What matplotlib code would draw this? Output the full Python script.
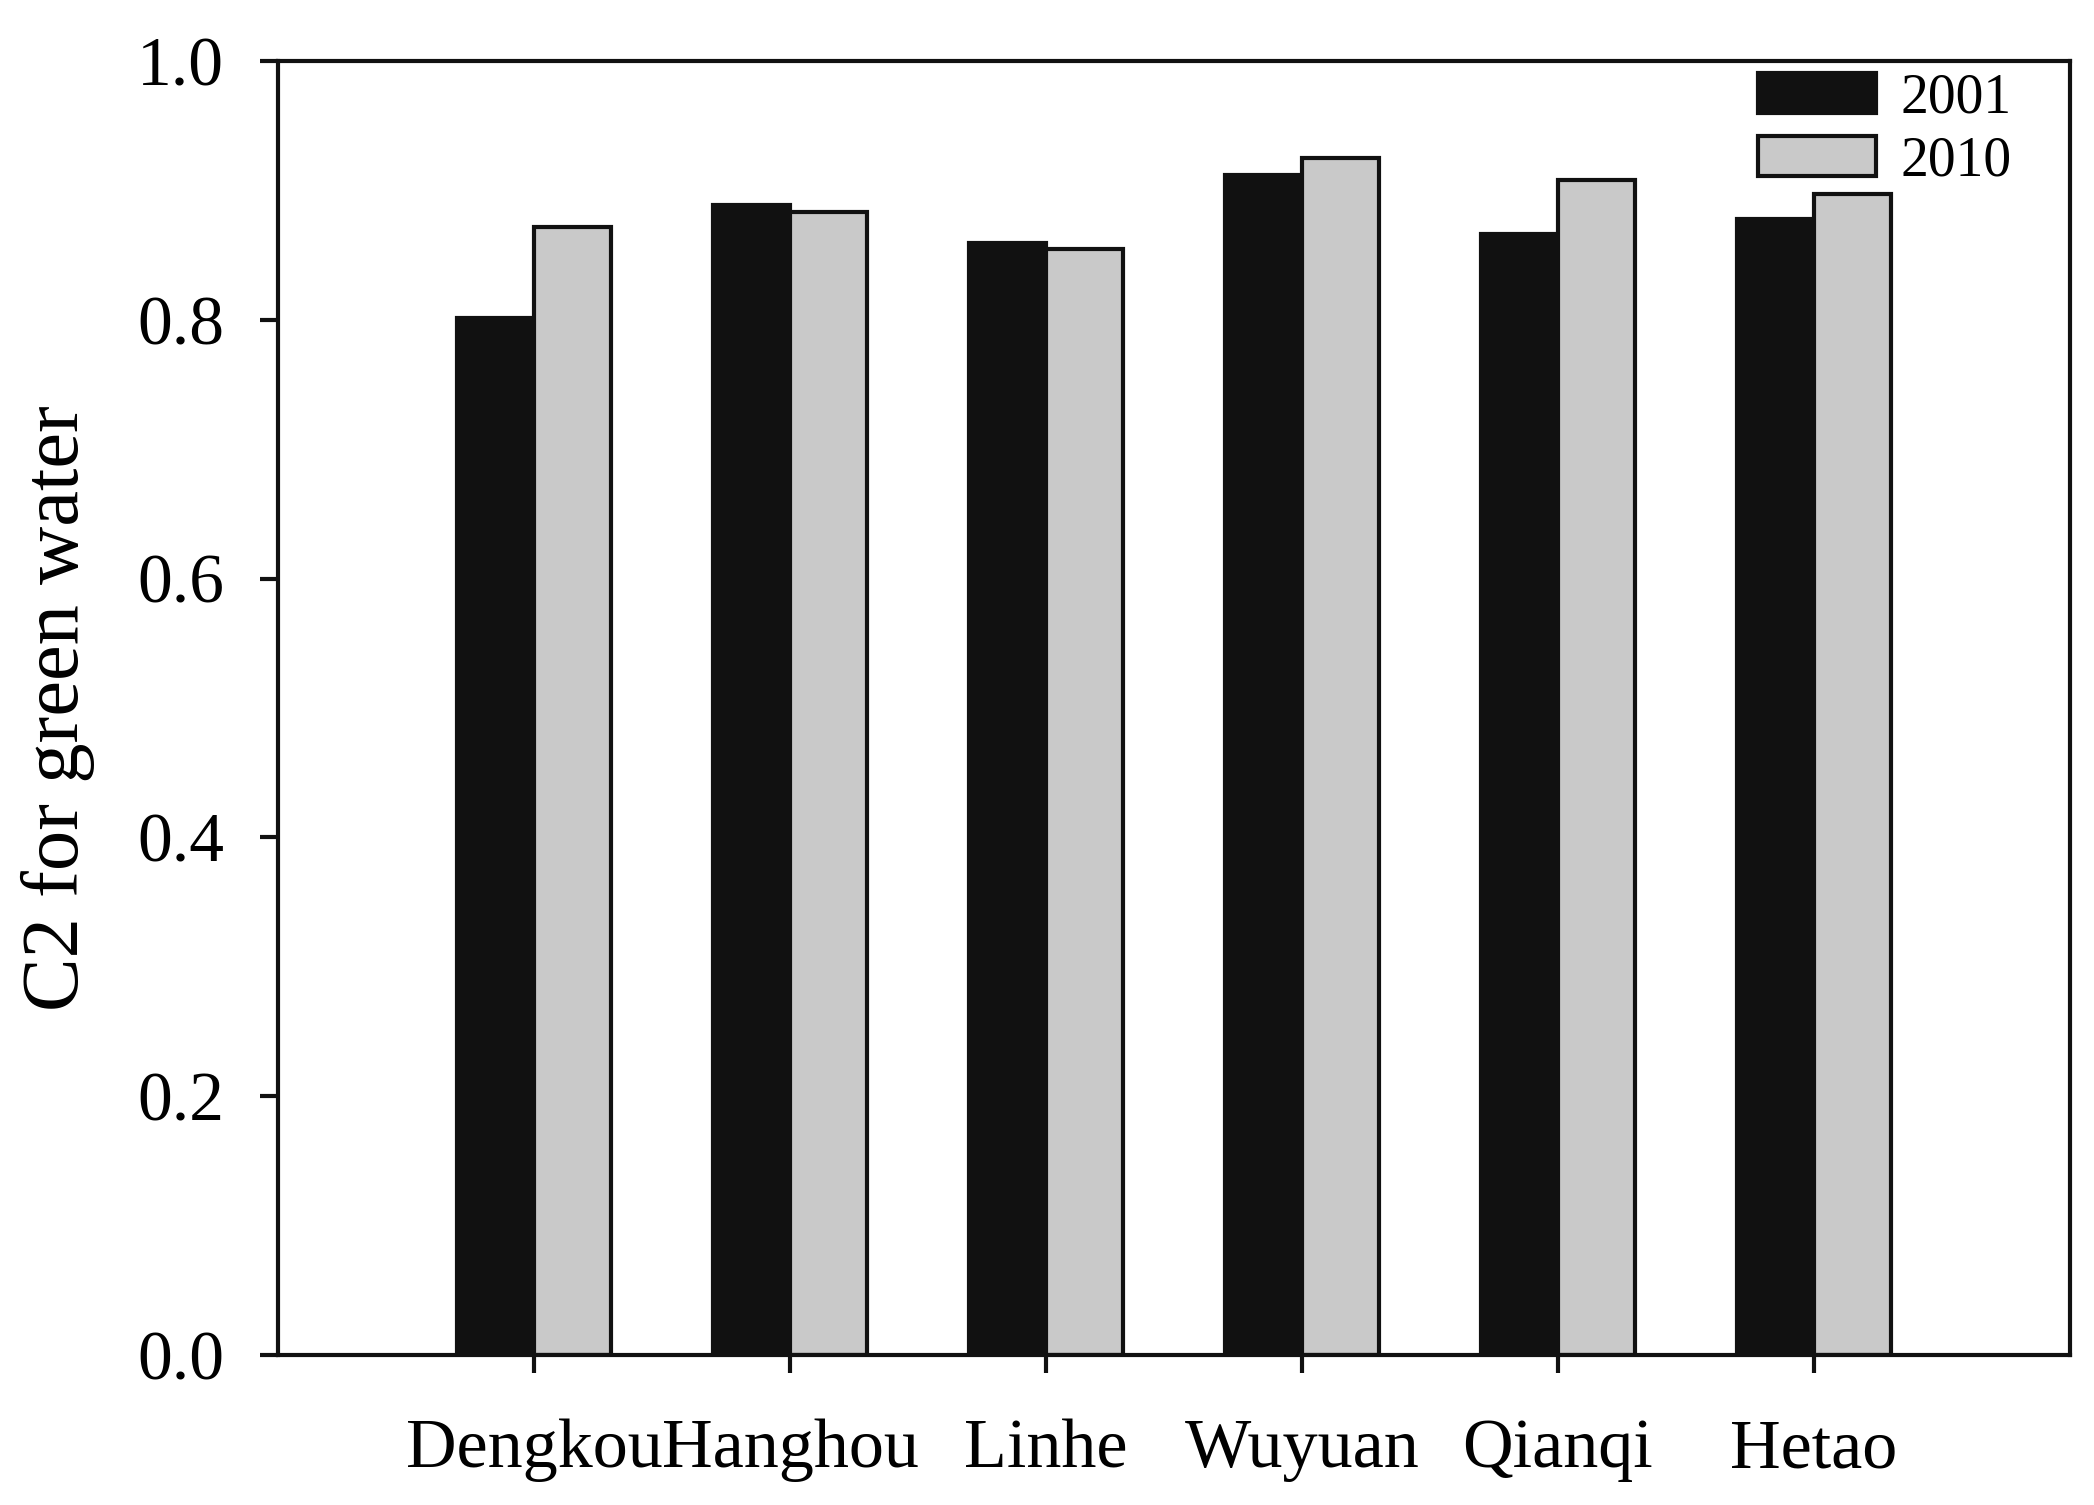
import matplotlib
matplotlib.use("Agg")
import matplotlib.pyplot as plt
import numpy as np

categories = ["Dengkou", "Hanghou", "Linhe", "Wuyuan", "Qianqi", "Hetao"]
values_2001 = [0.801, 0.889, 0.859, 0.912, 0.866, 0.878]
values_2010 = [0.872, 0.883, 0.855, 0.925, 0.908, 0.897]
series_labels = ["2001", "2010"]
yticks = [0.0, 0.2, 0.4, 0.6, 0.8, 1.0]
ylabel = "C2 for green water"

plt.rcParams['font.family'] = ['Liberation Serif', 'DejaVu Serif']

fig = plt.figure(figsize=(20.94, 15.05), dpi=100)
ax = fig.add_axes([0.1328, 0.0997, 0.9885 - 0.1328, 0.9595 - 0.0997])

x = np.arange(len(categories))
w = 0.3
ax.bar(x - w / 2, values_2001, width=w, color="#111111", edgecolor="#111111",
       linewidth=3, label=series_labels[0])
ax.bar(x + w / 2, values_2010, width=w, color="#c9c9c9", edgecolor="#111111",
       linewidth=3, label=series_labels[1])

ax.set_xlim(-1, 6)
ax.set_ylim(0, 1.0)
ax.set_xticks(x)
ax.set_xticklabels(categories)
ax.set_yticks(yticks)
ax.set_yticklabels([f"{v:.1f}" for v in yticks])

for s in ax.spines.values():
    s.set_linewidth(3)
    s.set_color("#111111")

ax.tick_params(axis='x', direction='out', length=13, width=3, pad=33, labelsize=50.5, color="#111111")
ax.tick_params(axis='y', direction='out', length=13, width=3, pad=26, labelsize=50, color="#111111")
ax.set_ylabel(ylabel, fontsize=58, labelpad=30)

leg = ax.legend(loc='upper left', bbox_to_anchor=(0.8395, 0.952), bbox_transform=fig.transFigure,
                frameon=False, fontsize=40,
                handlelength=2.12, handleheight=0.72, handletextpad=0.45,
                labelspacing=0.2, borderaxespad=0.0, borderpad=0.0)

fig.savefig("out.png", dpi=100)
